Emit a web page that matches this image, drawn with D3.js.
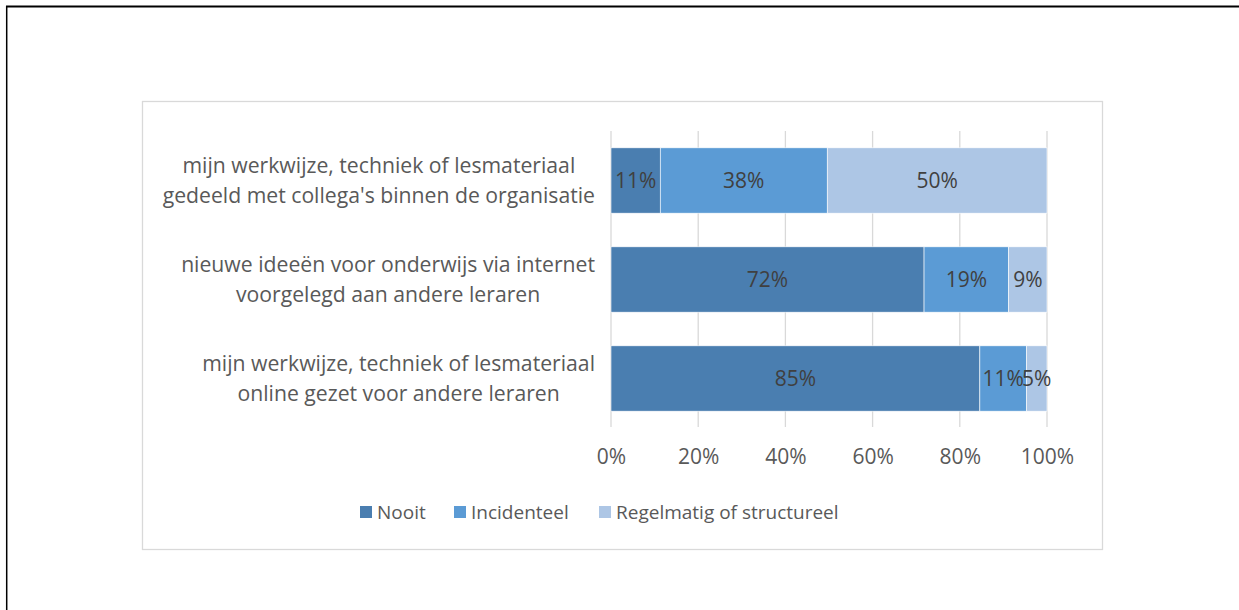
<!DOCTYPE html>
<html>
<head>
<meta charset="utf-8">
<script src="https://cdn.jsdelivr.net/npm/d3@7"></script>
<style>
  html, body { margin: 0; padding: 0; background: #fff; }
  svg { display: block; }
  text { font-family: 'Open Sans', 'Noto Sans', sans-serif; fill: #595959; }
</style>
</head>
<body>
<div id="chart"></div>
<script>
// data
const categories = [
  "mijn werkwijze, techniek of lesmateriaal\ngedeeld met collega's binnen de organisatie",
  'nieuwe ideeën voor onderwijs via internet\nvoorgelegd aan andere leraren',
  'mijn werkwijze, techniek of lesmateriaal\nonline gezet voor andere leraren',
];
const seriesNames = ['Nooit', 'Incidenteel', 'Regelmatig of structureel'];
const nooit = [11.3, 71.8, 84.6];
const incidenteel = [38.3, 19.4, 10.7];
const regelmatig = [50.4, 8.8, 4.7];
const xTicks = [0, 20, 40, 60, 80, 100];

const colors = ['#4A7EB0', '#5B9BD5', '#ADC6E5'];

const width = 1239;
const height = 610;
const margin = { top: 131, left: 611 };

const svg = d3.select('#chart')
  .append('svg')
  .attr('width', width)
  .attr('height', height);

// page borders (part of a document frame)
svg.append('line')
  .attr('x1', 6).attr('x2', width).attr('y1', 6.5).attr('y2', 6.5)
  .style('stroke', '#000').style('stroke-width', 2);
svg.append('line')
  .attr('x1', 6.7).attr('x2', 6.7).attr('y1', 6).attr('y2', height)
  .style('stroke', '#000').style('stroke-width', 1.5);

// chart area border
svg.append('rect')
  .attr('x', 142.5).attr('y', 101.5)
  .attr('width', 960).attr('height', 448)
  .style('fill', 'none')
  .style('stroke', '#D9D9D9')
  .style('stroke-width', 1.3);

const g = svg.append('g')
  .attr('transform', `translate(${margin.left},${margin.top})`);

const x = d3.scaleLinear().domain([0, 100]).range([0, 436]);
const y = d3.scaleBand()
  .domain(categories)
  .range([0, 297])
  .paddingInner(0.34)
  .paddingOuter(0.17);

// gridlines
g.append('g')
  .selectAll('line')
  .data(xTicks)
  .enter()
  .append('line')
  .attr('x1', (d) => x(d))
  .attr('x2', (d) => x(d))
  .attr('y1', 0)
  .attr('y2', 296)
  .style('stroke', '#D9D9D9')
  .style('stroke-width', 1.3);

// x axis labels
const xAxis = g.append('g')
  .attr('transform', 'translate(0,296)')
  .call(d3.axisBottom(x).tickValues(xTicks).tickFormat((d) => `${d}%`).tickSize(0).tickPadding(22));
xAxis.select('.domain').remove();
xAxis.selectAll('text')
  .style('font-size', '21px')
  .style('fill', '#595959')
  .style('font-family', "'Open Sans', sans-serif");

// stack
const table = categories.map((c, i) => ({
  category: c,
  Nooit: nooit[i],
  Incidenteel: incidenteel[i],
  'Regelmatig of structureel': regelmatig[i],
}));
const stacked = d3.stack().keys(seriesNames)(table);

const layers = g.selectAll('.layer')
  .data(stacked)
  .enter()
  .append('g')
  .attr('class', 'layer')
  .style('fill', (d, i) => colors[i]);

layers.selectAll('rect')
  .data((d) => d)
  .enter()
  .append('rect')
  .attr('x', (d) => x(d[0]))
  .attr('width', (d) => x(d[1]) - x(d[0]))
  .attr('y', (d) => y(d.data.category))
  .attr('height', y.bandwidth())
  .style('stroke', '#fff')
  .style('stroke-width', 0.6);

// data labels
layers.selectAll('text')
  .data((d) => d)
  .enter()
  .append('text')
  .attr('x', (d) => (x(d[0]) + x(d[1])) / 2)
  .attr('y', (d) => y(d.data.category) + y.bandwidth() / 2)
  .attr('dy', '0.36em')
  .attr('text-anchor', 'middle')
  .style('font-size', '21px')
  .style('fill', '#404040')
  .text((d) => `${Math.round(d[1] - d[0])}%`);

// category labels: block right aligned, lines centered in the block
const catRight = 595 - margin.left;
categories.forEach((c) => {
  const lines = c.split('\n');
  const cy = y(c) + y.bandwidth() / 2;
  const grp = g.append('g');
  const texts = lines.map((line, i) => grp.append('text')
    .attr('y', cy + (i - (lines.length - 1) / 2) * 30)
    .attr('dy', '0.36em')
    .attr('text-anchor', 'middle')
    .style('font-size', '21.2px')
    .text(line));
  const blockW = d3.max(texts, (t) => t.node().getComputedTextLength());
  texts.forEach((t) => t.attr('x', catRight - blockW / 2));
});

// legend
const legendX = [360, 454, 599];
const legend = svg.append('g')
  .selectAll('g')
  .data(seriesNames)
  .enter()
  .append('g')
  .attr('transform', (d, i) => `translate(${legendX[i]},506)`);
legend.append('rect')
  .attr('width', 12)
  .attr('height', 12)
  .style('fill', (d, i) => colors[i]);
legend.append('text')
  .attr('x', 17)
  .attr('y', 6)
  .attr('dy', '0.36em')
  .style('font-size', '19px')
  .text((d) => d);
</script>
</body>
</html>
